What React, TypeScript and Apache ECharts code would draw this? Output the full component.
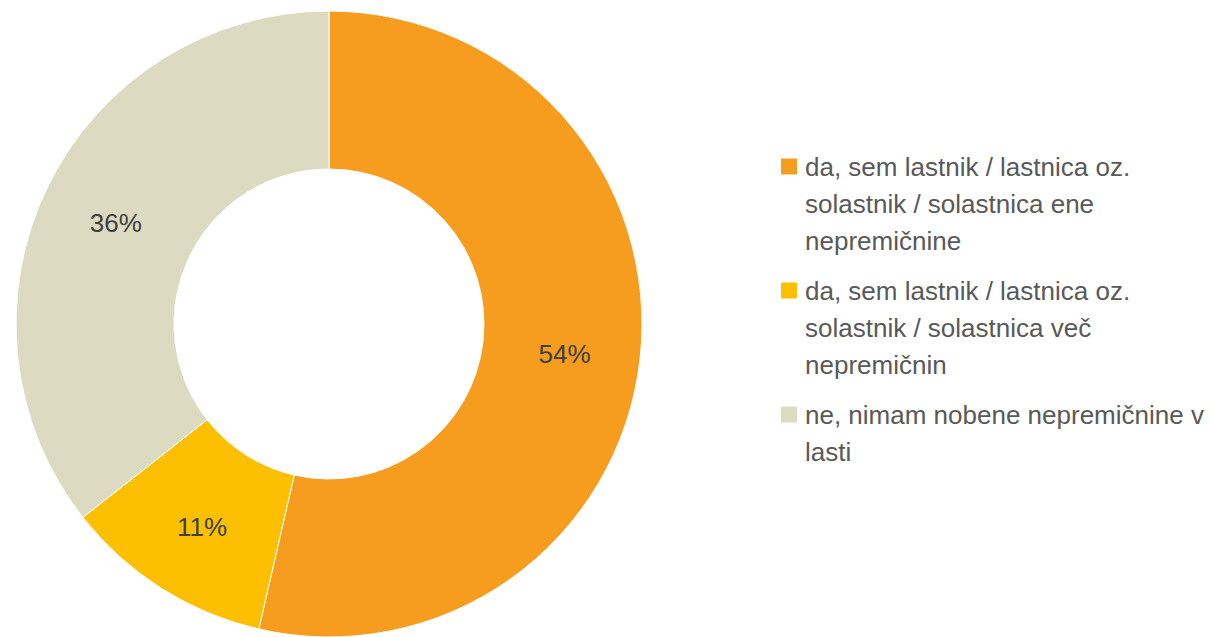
import React, { useEffect, useRef } from "react";
import * as echarts from "echarts";

const categories = [
  "da, sem lastnik / lastnica oz.\nsolastnik / solastnica ene\nnepremičnine",
  "da, sem lastnik / lastnica oz.\nsolastnik / solastnica več\nnepremičnin",
  "ne, nimam nobene nepremičnine v\nlasti",
];
const values = [53.6, 10.8, 35.6];
const colors = ["#F69C1E", "#FDBF02", "#DDDAC2"];

const FONT = "'Liberation Sans Narrow', 'Arial Narrow', 'Liberation Sans', Arial, sans-serif";

export default function App() {
  const ref = useRef<HTMLDivElement>(null);
  useEffect(() => {
    if (!ref.current) return;
    const chart = echarts.init(ref.current, null, { renderer: "svg" });
    const rich: any = {
      t: { fontFamily: FONT, fontSize: 26, lineHeight: 37, color: "#595959" },
      sp: { width: 24, height: 16, lineHeight: 37 },
    };
    colors.forEach((c, i) => {
      rich["sq" + i] = {
        width: 16,
        height: 16,
        backgroundColor: c,
        lineHeight: 37,
      };
      rich["gap" + i] = { width: 8, height: 16, lineHeight: 37 };
    });
    chart.setOption({
      animation: false,
      legend: {
        orient: "vertical",
        left: 776,
        top: 148,
        padding: 0,
        itemWidth: 0,
        itemHeight: 0,
        itemGap: 13,
        icon: "none",
        align: "left",
        textStyle: {
          fontFamily: FONT,
          fontSize: 26,
          lineHeight: 37,
          color: "#595959",
          rich,
        },
        formatter: (name: string) => {
          const i = categories.indexOf(name);
          const lines = name.split("\n");
          return lines
            .map((l, k) =>
              k === 0
                ? `{sq${i}|}{gap${i}|}{t|${l}}`
                : `{sp|}{t|${l}}`
            )
            .join("\n");
        },
        data: categories,
      },
      series: [
        {
          type: "pie",
          center: [329, 324],
          radius: [155, 313],
          startAngle: 90,
          clockwise: true,
          avoidLabelOverlap: false,
          itemStyle: { borderColor: "#ffffff", borderWidth: 1 },
          label: {
            show: true,
            position: "inside",
            fontFamily: FONT,
            fontSize: 26,
            color: "#404040",
            offset: [0, 3],
            formatter: (p: any) => Math.round(p.value) + "%",
          },
          labelLine: { show: false },
          emphasis: { disabled: true },
          data: categories.map((name, i) => ({
            name,
            value: values[i],
            itemStyle: { color: colors[i] },
          })),
        },
      ],
    });
    return () => chart.dispose();
  }, []);
  return (
    <div
      ref={ref}
      style={{ position: "absolute", left: 0, top: 0, width: 1214, height: 637 }}
    />
  );
}
